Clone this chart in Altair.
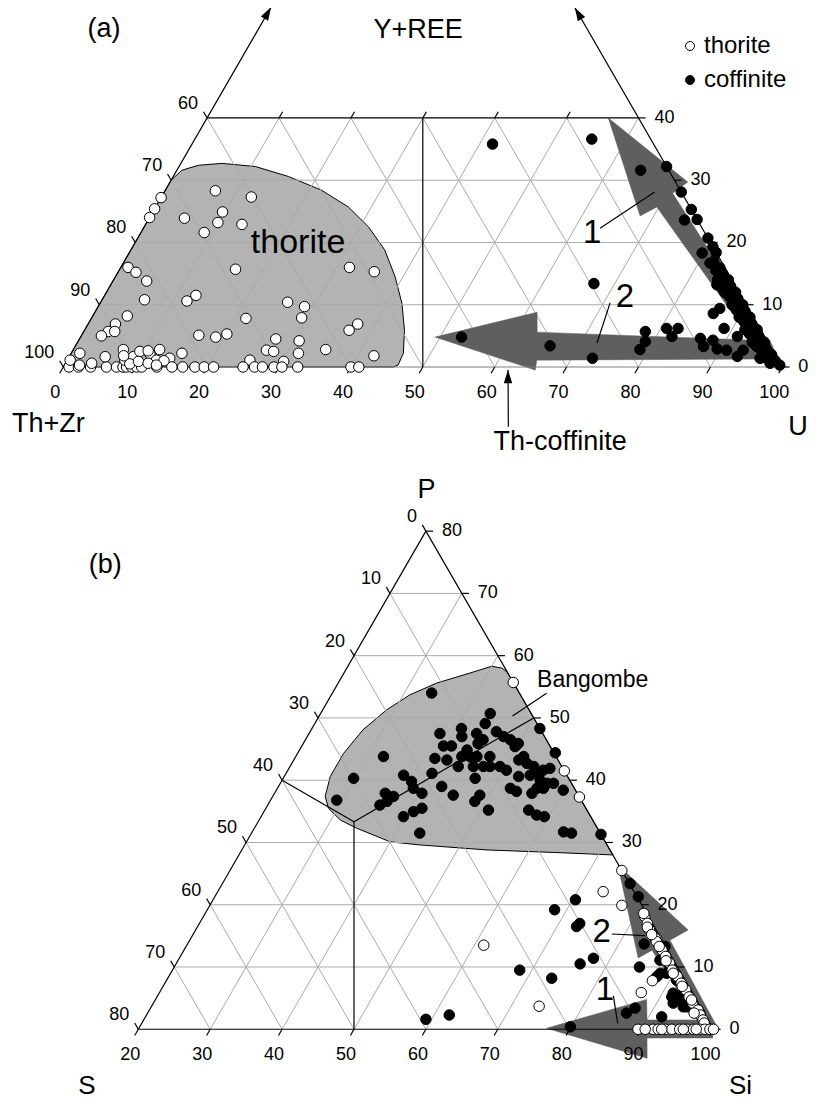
import altair as alt
import pandas as pd

FONT = "Liberation Sans"

# ---------------- panel (a): Th+Zr - (Y+REE) - U ----------------
# pairs are (U, Y+REE); Th+Zr = 100 - U - (Y+REE)
a_thorite = [
    (7.0, 28.3), (12.5, 27.3), (0.0, 27.2), (0.0, 25.4), (0.0, 24.0), (4.9, 23.9),
    (9.7, 24.9), (9.9, 23.2), (8.8, 21.6), (13.4, 22.9), (16.1, 15.7), (1.0, 16.0),
    (2.5, 15.2), (4.7, 13.8), (5.9, 10.8), (11.9, 10.6), (12.7, 11.5), (4.8, 8.2),
    (3.8, 6.9), (3.4, 5.7), (4.3, 5.7), (2.8, 5.0), (21.5, 7.8), (16.3, 5.1),
    (18.8, 4.8), (20.1, 5.3), (26.0, 10.4), (28.7, 9.7), (29.2, 7.9), (27.3, 4.5),
    (26.9, 2.7), (28.0, 2.5), (30.7, 4.2), (31.6, 2.2), (35.1, 2.8), (31.8, 16.0),
    (35.6, 15.3), (36.8, 5.9), (37.5, 6.9), (42.3, 1.8), (15.4, 2.2), (14.1, 1.4),
    (30.2, 0.9), (25.4, 1.1),
    (0.8, 0), (2.1, 0), (3.8, 0), (6.0, 0), (7.4, 0), (8.3, 0), (8.8, 0), (9.5, 0),
    (10.2, 0), (10.9, 0), (13.0, 0), (15.1, 0), (16.6, 0), (18.3, 0), (19.6, 0),
    (20.9, 0), (25.0, 0), (26.6, 0), (27.7, 0), (29.3, 0), (30.4, 0), (32.6, 0),
    (40.0, 0), (41.1, 0),
    (0.4, 1.1), (1.2, 2.2), (2.1, 0.3), (3.65, 0.6), (5.0, 1.65), (6.95, 2.8),
    (8.0, 1.1), (8.9, 1.65), (9.4, 2.5), (11.0, 2.1), (12.4, 1.1), (9.0, 0.5),
    (10.0, 0.9), (11.5, 0.6), (12.0, 2.8), (13.5, 1.0), (7.5, 1.8), (10.5, 2.6),
    (12.8, 0.3),
]
a_coffinite = [
    (41.8, 35.8), (55.2, 36.6), (53.0, 4.8), (66.0, 3.4), (67.1, 13.4), (72.9, 1.4),
    (64.5, 31.6), (67.8, 32.2), (71.9, 28.1), (74.7, 25.3), (74.6, 23.6), (76.3, 23.7),
    (79.3, 20.7), (80.7, 19.3), (81.6, 18.4), (79.7, 18.3), (81.6, 16.7), (84.3, 13.2),
    (85.6, 12.4), (86.6, 9.4), (86.1, 8.6), (88.8, 6.2), (78.1, 5.7), (80.8, 6.2),
    (82.4, 6.2), (82.2, 4.9), (78.9, 4.1), (78.8, 2.8), (86.3, 4.6), (88.2, 4.3),
    (87.4, 3.3), (89.5, 2.9), (90.9, 2.7), (91.3, 4.9), (92.9, 1.7), (92.5, 5.7),
    (94.1, 3.8), (95.7, 2.7), (97.7, 1.7), (99.5, 0.3), (98.0, 0.6), (96.2, 1.4),
    (93.2, 2.7),
    (82.0, 17.0), (83.3, 16.0), (84.2, 15.0), (85.5, 14.0), (86.3, 13.0), (87.5, 12.0),
    (88.3, 11.0), (89.5, 10.0), (90.3, 9.0), (91.5, 8.0), (92.2, 7.0), (93.5, 6.0),
    (94.2, 5.0), (95.5, 4.0), (96.2, 3.0), (97.5, 2.0), (84.0, 14.0), (86.0, 12.0),
    (88.0, 10.0), (90.0, 8.0), (91.8, 6.0), (93.8, 4.0), (83.0, 15.5), (85.0, 13.5),
    (87.0, 11.3), (89.0, 9.2), (91.0, 7.3), (92.8, 5.3), (94.8, 3.3), (96.8, 1.5),
    (98.5, 1.0),
]
a_region_thorite = [
    (0.0, 0.0), (0.0, 30.0), (0.7, 31.6), (2.6, 32.4), (5.7, 32.7), (10.6, 32.2),
    (16.0, 30.6), (21.7, 28.4), (26.8, 25.7), (31.2, 22.5), (35.3, 18.8), (38.9, 14.5),
    (42.0, 10.2), (44.5, 5.9), (46.2, 2.2), (46.4, 0.3), (45.9, 0.0),
]
a_arrow1 = [(55.8, 40.0), (68.1, 24.25), (69.7, 25.7), (95.7, 2.4), (99.9, 0.3), (70.8, 27.9), (72.0, 29.7)]
a_arrow2 = [(49.3, 4.8), (61.5, 8.8), (63.1, 5.6), (96.2, 4.2), (98.8, 1.3), (65.3, 1.1), (65.9, -0.5)]

a_bottom_ticks = [0, 10, 20, 30, 40, 50, 60, 70, 80, 90, 100]   # U
a_top_ticks = [10, 20, 30, 40, 50]                               # U on the Y+REE = 40 cut
a_left_ticks = [60, 70, 80, 90, 100]                             # Th+Zr
a_right_ticks = [0, 10, 20, 30, 40]                              # Y+REE

# ---------------- panel (b): S - P - Si ----------------
# pairs are (Si, P); S = 100 - Si - P
b_thorite = [
    (44.3, 55.7), (58.5, 41.5), (62.7, 37.3), (74.5, 25.5), (73.6, 22.1), (77.3, 19.9),
    (61.3, 13.5), (73.9, 3.7), (87.0, 5.9), (87.6, 7.8), (84.8, 14.6),
    (81.4, 18.1), (82.3, 17.0), (83.1, 16.0), (84.6, 14.6), (85.0, 14.1), (86.5, 12.7),
    (87.5, 11.7), (88.6, 10.6), (89.5, 9.5), (90.7, 8.5), (91.8, 7.4), (93.0, 6.3),
    (94.0, 5.2), (95.0, 4.2), (96.3, 3.1), (97.0, 2.3), (97.8, 1.5), (81.0, 18.6),
    (82.6, 16.4), (83.8, 15.2), (85.8, 13.3), (87.9, 11.0), (89.9, 9.0), (92.2, 6.9),
    (94.6, 4.7), (96.0, 2.6), (98.2, 1.0),
    (89.5, 0), (91.6, 0), (92.3, 0), (93.3, 0), (94.2, 0), (95.3, 0), (96.3, 0),
    (97.2, 0), (98.1, 0), (98.8, 0), (99.5, 0), (100.0, 0), (90.5, 0), (92.8, 0),
    (95.8, 0), (97.6, 0),
]
b_coffinite = [
    (33.8, 54.0), (43.6, 50.7), (43.7, 49.1), (40.8, 48.3), (38.2, 47.5), (41.5, 47.0),
    (43.3, 47.5), (44.7, 46.5), (44.3, 45.9), (45.9, 47.8), (47.3, 47.0), (48.5, 46.5),
    (49.9, 45.9), (49.7, 45.4), (39.7, 45.5), (40.8, 45.5), (39.5, 43.5), (41.3, 43.25),
    (43.3, 44.85), (44.2, 43.8), (43.1, 43.8), (45.2, 43.8), (45.5, 42.2), (46.9, 42.2),
    (47.0, 43.8), (47.8, 42.2), (49.2, 42.2), (50.4, 41.6), (43.4, 42.2), (40.3, 41.1),
    (46.7, 40.3), (51.3, 43.25), (51.7, 43.8), (52.7, 42.7), (53.9, 42.2), (54.9, 41.1),
    (55.5, 41.6), (56.3, 41.9), (54.1, 40.8), (55.9, 40.0), (57.1, 39.5), (58.0, 39.5),
    (52.6, 40.6), (56.1, 38.7), (55.8, 37.9), (57.0, 38.7), (59.9, 38.4), (55.8, 44.4),
    (51.7, 48.3), (52.4, 38.7), (53.5, 38.2), (51.1, 35.2), (48.7, 37.6), (48.5, 36.6),
    (45.0, 37.6), (42.7, 39.0), (40.5, 37.9), (38.1, 39.8), (36.5, 40.8), (38.9, 38.7),
    (35.4, 37.9), (36.8, 37.4), (36.3, 36.6), (35.6, 36.0), (39.8, 34.15), (40.8, 34.95),
    (41.7, 35.5), (32.2, 43.8), (29.8, 40.3), (29.2, 36.8), (43.4, 31.5), (56.7, 35.2),
    (58.2, 34.4), (59.4, 34.15), (63.3, 31.7), (64.5, 31.5), (68.7, 31.3),
    (70.4, 20.8), (68.3, 19.2), (72.9, 17.0), (72.7, 16.5), (77.6, 11.4), (76.2, 10.5),
    (68.3, 9.5), (73.4, 8.2), (62.1, 2.3), (59.2, 1.6), (79.9, 0.4), (86.6, 2.6),
    (87.4, 3.4), (84.7, 10.0), (83.5, 13.7), (76.7, 23.4), (78.9, 21.3), (91.8, 2.0),
    (87.0, 11.1), (89.0, 9.0), (90.9, 7.9), (91.5, 5.8), (93.0, 4.7), (94.5, 3.6),
    (95.5, 3.4), (96.8, 2.6), (92.3, 4.2), (92.9, 5.8), (86.6, 13.3), (88.95, 10.0),
    (87.9, 8.45), (88.1, 9.0), (91.6, 5.2), (94.0, 3.6),
]
b_region_bangombe = [
    (72.0, 28.0), (42.7, 57.3), (41.6, 58.0), (40.0, 58.3), (37.5, 57.2), (33.7, 55.6),
    (30.9, 53.7), (28.9, 51.3), (27.2, 48.1), (26.4, 44.3), (26.4, 40.6), (27.3, 37.4),
    (28.7, 35.5), (31.3, 33.6), (34.2, 32.3), (40.0, 30.1), (44.4, 29.6), (54.1, 28.8),
    (63.5, 28.4),
]
b_arrow2 = [(73.5, 26.4), (83.8, 11.45), (85.1, 12.7), (97.8, 0.7), (100.0, 0.7), (86.8, 14.3), (88.5, 15.95)]
b_arrow1 = [(76.7, 0.16), (88.3, 4.8), (90.0, 1.5), (99.2, 1.5), (100.6, -1.4), (91.45, -1.4), (93.1, -4.66)]

b_bottom_ticks = [20, 30, 40, 50, 60, 70, 80, 90, 100]   # Si
b_left_ticks = [0, 10, 20, 30, 40, 50, 60, 70, 80]       # S
b_right_ticks = [0, 10, 20, 30, 40, 50, 60, 70, 80]      # P

# ---------------- ternary -> cartesian (layout) ----------------
K = 0.8660254


def ta(u, y):
    return u + y / 2.0, y * K


def tb(si, p):
    return 10.43 + (si - 20) + p / 2.0, -92.11 + p * K


# points
prow = []
for u, y in a_coffinite:
    x, yy = ta(u, y); prow.append(dict(x=x, y=yy, mineral="coffinite"))
for si, p in b_coffinite:
    x, yy = tb(si, p); prow.append(dict(x=x, y=yy, mineral="coffinite"))
for u, y in a_thorite:
    x, yy = ta(u, y); prow.append(dict(x=x, y=yy, mineral="thorite"))
for si, p in b_thorite:
    x, yy = tb(si, p); prow.append(dict(x=x, y=yy, mineral="thorite"))
pts_df = pd.DataFrame(prow)


def poly(rows, pid, verts, f):
    for i, (a, b) in enumerate(verts):
        x, y = f(a, b)
        rows.append(dict(id=pid, i=i, x=x, y=y))


reg = []
poly(reg, "thorite", a_region_thorite, ta)
poly(reg, "bangombe", b_region_bangombe, tb)
reg_df = pd.DataFrame(reg)

arr = []
poly(arr, "a1", a_arrow1, ta)
poly(arr, "a2", a_arrow2, ta)
poly(arr, "b1", b_arrow1, tb)
poly(arr, "b2", b_arrow2, tb)
arr_df = pd.DataFrame(arr)


def seg(rows, p, q, col="black"):
    rows.append(dict(x=p[0], y=p[1], x2=q[0], y2=q[1], col=col))


grid = []
for v in range(10, 100, 10):
    ye = min(40, 100 - v)
    seg(grid, ta(v, 0), ta(v, ye))
    seg(grid, ta(100 - v, 0), ta(100 - v - ye, ye))
for y in (10, 20, 30):
    seg(grid, ta(0, y), ta(100 - y, y))
for v in range(30, 100, 10):
    seg(grid, tb(v, 0), tb(v, 100 - v))
for s in range(10, 80, 10):
    seg(grid, tb(100 - s, 0), tb(20, 80 - s))
for p in range(10, 80, 10):
    seg(grid, tb(20, p), tb(100 - p, p))
grid_df = pd.DataFrame(grid)

lines = []
seg(lines, ta(0, 0), ta(100, 0), "#808080")
seg(lines, ta(0, 0), ta(0, 57.8))
seg(lines, ta(100, 0), ta(42.3, 57.7))
seg(lines, ta(0, 40), ta(60, 40))
seg(lines, ta(50, 0), ta(30, 40))
seg(lines, ta(66.7, -9.6), ta(62.1, -0.5))
seg(lines, tb(20, 0), tb(100, 0))
seg(lines, tb(20, 0), tb(20, 80))
seg(lines, tb(100, 0), tb(20, 80))
c3 = 100.0 / 3
seg(lines, tb(c3, c3), tb(20, 40))
seg(lines, tb(c3, c3), tb(50, 50))
seg(lines, tb(c3, c3), tb(50, 0))
for u in a_bottom_ticks:
    seg(lines, ta(u, 0), ta(u, -1))
for u in a_top_ticks:
    seg(lines, ta(u, 40), ta(u, 41))
for t in a_left_ticks:
    seg(lines, ta(0, 100 - t), ta(-1, 101 - t))
for y in a_right_ticks:
    seg(lines, ta(100 - y, y), ta(101 - y, y))
for si in b_bottom_ticks:
    seg(lines, tb(si, 0), tb(si, -1))
for s in b_left_ticks:
    seg(lines, tb(20, 80 - s), tb(19, 81 - s))
for p in b_right_ticks:
    seg(lines, tb(100 - p, p), tb(101 - p, p))
# leader lines
seg(lines, ta(63.5, 22.3), ta(68.2, 28.1))
seg(lines, ta(70.9, 10.3), ta(72.3, 3.85))
seg(lines, tb(49.8, 53.96), tb(46.9, 50.3))
seg(lines, tb(78.2, 15.3), tb(82.95, 15.03))
seg(lines, tb(83.4, 5.35), tb(86.2, 0.96))
lines_df = pd.DataFrame(lines)

heads = []
for (u, y, ang) in [(0.0, 57.8, 30), (42.3, 57.7, 330), (62.1, -0.5, 0)]:
    x, yy = ta(u, y); heads.append(dict(x=x, y=yy, ang=ang))
heads_df = pd.DataFrame(heads)


def lab(rows, pos, text):
    rows.append(dict(x=pos[0], y=pos[1], t=text))


bot, left, right = [], [], []
for u in a_bottom_ticks:
    lab(bot, ta(u, 0), str(u))
for si in b_bottom_ticks:
    lab(bot, tb(si, 0), str(si))
for t in a_left_ticks:
    lab(left, ta(0, 100 - t), str(t))
for s in b_left_ticks:
    lab(left, tb(20, 80 - s), str(s))
for y in a_right_ticks:
    lab(right, ta(100 - y, y), str(y))
for p in b_right_ticks:
    lab(right, tb(100 - p, p), str(p))
bot_df, left_df, right_df = pd.DataFrame(bot), pd.DataFrame(left), pd.DataFrame(right)

ann = []
for text, pos, size in [
    ("(a)", ta(-21.5, 54.3), 27), ("Y+REE", ta(22.3, 54.1), 27), ("Th+Zr", ta(2.5, -9.15), 27),
    ("U", ta(107.0, -9.6), 27), ("thorite", ta(22.7, 19.9), 34), ("Th-coffinite", ta(75.1, -12.0), 27),
    ("1", ta(62.8, 21.5), 33), ("2", ta(72.5, 11.2), 33),
    ("(b)", tb(-21.9, 74.6), 27), ("P", tb(16.8, 86.6), 27), ("S", tb(17.4, -9.1), 26),
    ("Si", tb(108.3, -9.1), 26), ("Bangombe", tb(55.15, 56.1), 23), ("2", tb(76.6, 15.7), 33),
    ("1", tb(81.75, 6.3), 33),
]:
    ann.append(dict(x=pos[0], y=pos[1], t=text, fs=size))
ann_df = pd.DataFrame(ann)

# ---------------- chart ----------------
X = alt.X("x:Q", scale=alt.Scale(domain=[-7.691, 103.574], nice=False, zero=False), axis=None)
Y = alt.Y("y:Q", scale=alt.Scale(domain=[-102.364, 49.930], nice=False, zero=False), axis=None)

region_layer = alt.Chart(reg_df).mark_line(
    interpolate="linear-closed", fill="#b3b3b3", stroke="black", strokeWidth=1
).encode(X, Y, detail="id:N", order="i:Q")

grid_layer = alt.Chart(grid_df).mark_rule(color="#ababab", strokeWidth=1).encode(X, Y, x2="x2:Q", y2="y2:Q")

arrow_layer = alt.Chart(arr_df).mark_line(
    interpolate="linear-closed", fill="#5f5f5f", stroke="#5f5f5f", strokeWidth=0.5
).encode(X, Y, detail="id:N", order="i:Q")

line_layer = alt.Chart(lines_df).mark_rule(strokeWidth=1.2).encode(
    X, Y, x2="x2:Q", y2="y2:Q", color=alt.Color("col:N", scale=None)
)

ARROW = "M0,0L0.32,1L-0.32,1Z"
head_layer = alt.Chart(heads_df).mark_point(
    shape=ARROW, filled=True, color="black", size=700, opacity=1, strokeWidth=0
).encode(X, Y, angle=alt.Angle("ang:Q", scale=None))

pts_layer = alt.Chart(pts_df).mark_point(
    filled=True, size=110, stroke="black", strokeWidth=1, opacity=1, shape="circle"
).encode(
    X, Y,
    color=alt.Color(
        "mineral:N",
        scale=alt.Scale(domain=["thorite", "coffinite"], range=["white", "black"]),
        legend=alt.Legend(
            title=None, orient="none", legendX=670, legendY=26, labelFontSize=24,
            labelFont=FONT, symbolSize=80, symbolType="circle", symbolStrokeColor="black",
            symbolStrokeWidth=1, labelOffset=2, rowPadding=10, padding=0,
        ),
    ),
)

bot_layer = alt.Chart(bot_df).mark_text(
    font=FONT, fontSize=18, align="center", baseline="middle", dx=-8, dy=26, color="black"
).encode(X, Y, text="t:N")
left_layer = alt.Chart(left_df).mark_text(
    font=FONT, fontSize=18, align="right", baseline="middle", dx=-9, dy=-14, color="black"
).encode(X, Y, text="t:N")
right_layer = alt.Chart(right_df).mark_text(
    font=FONT, fontSize=18, align="left", baseline="middle", dx=16, dy=0, color="black"
).encode(X, Y, text="t:N")

ann_layer = alt.Chart(ann_df).mark_text(
    font=FONT, align="center", baseline="middle", color="black"
).encode(X, Y, text="t:N", size=alt.Size("fs:Q", scale=None))

chart = alt.layer(
    region_layer, grid_layer, arrow_layer, line_layer, pts_layer, head_layer,
    bot_layer, left_layer, right_layer, ann_layer,
).properties(
    width=800, height=1095, padding=0, autosize=alt.AutoSizeParams(type="none"), background="white"
).configure_view(stroke=None)

chart.save("out.html", embed_options={"renderer": "svg", "actions": False})
